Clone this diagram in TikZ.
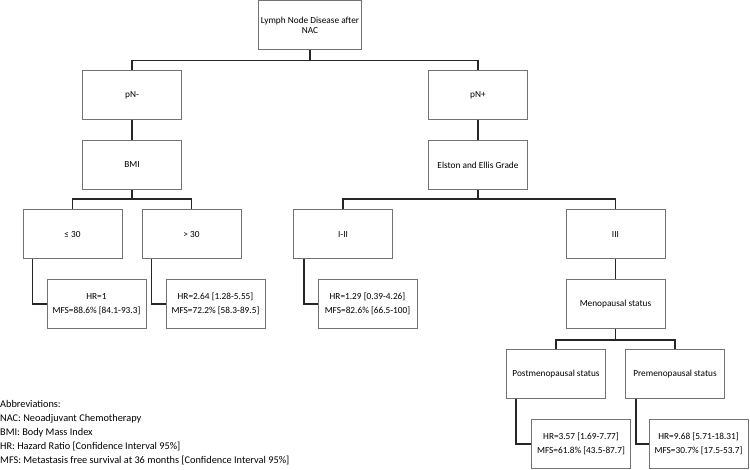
\documentclass[tikz,border=0pt]{standalone}
\usepackage{fontspec}
\setmainfont{Carlito}
\usetikzlibrary{positioning}

\begin{document}
\begin{tikzpicture}[
  x=1pt, y=-1pt,
  font=\fontsize{9.3}{10.5}\selectfont,
  box/.style={draw=black!55, line width=1pt, fill=white, align=center,
              minimum width=99pt, minimum height=49pt, inner sep=2pt},
  res/.style={box, font=\fontsize{9.3}{14}\selectfont},
  link/.style={draw=black!85, line width=1.8pt},
  elbow/.style={link, rounded corners=0pt}
]
\useasboundingbox (0,0) rectangle (750,470);
% tree
\node[box, minimum width=100pt, minimum height=49pt] (root) at (310,25.5) {Lymph Node Disease after\\NAC};
\node[box] (pnneg) at (132,95) {pN-};
\node[box] (pnpos) at (478,95) {pN+};
\node[box] (bmi) at (132,165) {BMI};
\node[box] (grade) at (478,165) {Elston and Ellis Grade};
\node[box] (bmilow) at (72.5,234.5) {≤ 30};
\node[box] (bmihigh) at (191.5,234.5) {> 30};
\node[box] (grlow) at (343,234.5) {I-II};
\node[box] (grhigh) at (615.5,234.5) {III};
\node[box] (meno) at (615.5,304) {Menopausal status};
\node[box] (post) at (556,374) {Postmenopausal status};
\node[box] (pre) at (675,374) {Premenopausal status};
% results
\node[res] (res1) at (96.5,304) {HR=1\\MFS=88.6\% [84.1-93.3]};
\node[res] (res2) at (215.5,304) {HR=2.64 [1.28-5.55]\\MFS=72.2\% [58.3-89.5]};
\node[res] (res3) at (367.5,304) {HR=1.29 [0.39-4.26]\\MFS=82.6\% [66.5-100]};
\node[res] (res4) at (581,444) {HR=3.57 [1.69-7.77]\\MFS=61.8\% [43.5-87.7]};
\node[res] (res5) at (698.5,444) {HR=9.68 [5.71-18.31]\\MFS=30.7\% [17.5-53.7]};
% connectors
\draw[link] (root.south) -- ++(0,10) -| (pnneg.north);
\draw[link] (root.south) -- ++(0,10) -| (pnpos.north);
\draw[link] (pnneg) -- (bmi);
\draw[link] (pnpos) -- (grade);
\draw[link] (bmi.south) -- ++(0,9) -| (bmilow.north);
\draw[link] (bmi.south) -- ++(0,9) -| (bmihigh.north);
\draw[link] (grade.south) -- ++(0,9) -| (grlow.north);
\draw[link] (grade.south) -- ++(0,9) -| (grhigh.north);
\draw[link] (grhigh) -- (meno);
\draw[link] (meno.south) -- ++(0,11) -| (post.north);
\draw[link] (meno.south) -- ++(0,11) -| (pre.north);
\draw[elbow] ([xshift=10pt]bmilow.south west) |- (res1.west);
\draw[elbow] ([xshift=10pt]bmihigh.south west) |- (res2.west);
\draw[elbow] ([xshift=11pt]grlow.south west) |- (res3.west);
\draw[elbow] ([xshift=10pt]post.south west) |- (res4.west);
\draw[elbow] ([xshift=11pt]pre.south west) |- (res5.west);
% abbreviations
\node[anchor=north west, inner sep=0pt, align=left, font=\fontsize{10.3}{14}\selectfont] (abbrev) at (0,400.5)
  {Abbreviations:\\NAC: Neoadjuvant Chemotherapy\\BMI: Body Mass Index\\HR: Hazard Ratio [Confidence Interval 95\%]\\MFS: Metastasis free survival at 36 months [Confidence Interval 95\%]};
\end{tikzpicture}
\end{document}
